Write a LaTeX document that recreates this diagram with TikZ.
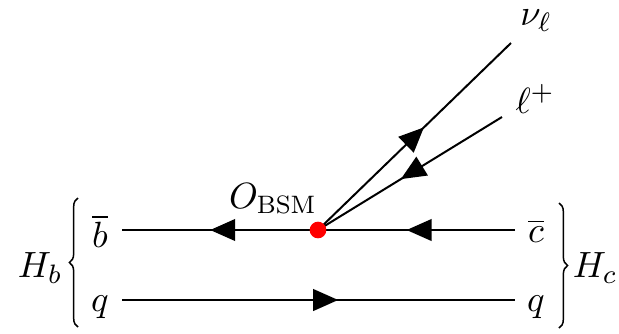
\documentclass[tikz,border=0pt]{standalone}
\usepackage{amsmath}
\usepackage{tikz}
\usetikzlibrary{
    arrows.meta,
    decorations.markings,
    decorations.pathreplacing
}
\tikzset{
    >=Stealth,
    fermion/.style={
        line width=0.6pt,
        postaction={decorate},
        decoration={
            markings,
            mark=at position 0.55 with {\arrow{Triangle[length=7.5pt,width=6.5pt]}}
        }
    },
    hadron brace/.style={
        decorate,
        decoration={brace, amplitude=2.6pt},
        line width=0.45pt
    },
    vertex/.style={
        circle,
        fill=red,
        inner sep=0pt,
        minimum size=5pt
    }
}

\begin{document}
\begin{tikzpicture}[
    x=0.3pt,
    y=-0.3pt,
    font=\fontsize{10.8}{13}\selectfont
]
    \useasboundingbox (0,0) rectangle (619,333);

    % Vertice
    \coordinate (vtx) at (318,230);

    % Extremos de las lineas
    \coordinate (b1) at (122,230);
    \coordinate (c1) at (515,230);
    \coordinate (q1) at (122,300);
    \coordinate (q2) at (515,300);
    \coordinate (n1) at (511,43);
    \coordinate (l1) at (502,117);

    % Etiquetas
    \node (bbar) at (100,231) {$\overline{b}$};
    \node (qb)   at (100,307) {$q$};
    \node (cbar) at (536,231) {$\overline{c}$};
    \node (qc)   at (536,307) {$q$};
    \node (nu)   at (536,21)  {$\nu_\ell$};
    \node (lep)  at (535,99)  {$\ell^+$};
    \node (op)   at (273,199) {$O_{\text{BSM}}$};
    \node (hb)   at (40,268)  {$H_b$};
    \node (hc)   at (595,268) {$H_c$};

    % Lineas
    \draw[fermion] (vtx) -- (b1);
    \draw[fermion] (c1) -- (vtx);
    \draw[fermion] (q1) -- (q2);
    \draw[fermion] (vtx) -- (n1);
    \draw[fermion] (l1) -- (vtx);

    % Llaves
    \draw[hadron brace] (78,327) -- (78,198);
    \draw[hadron brace] (559,203) -- (559,328);

    \node[vertex] (obsm) at (vtx) {};

\end{tikzpicture}
\end{document}
